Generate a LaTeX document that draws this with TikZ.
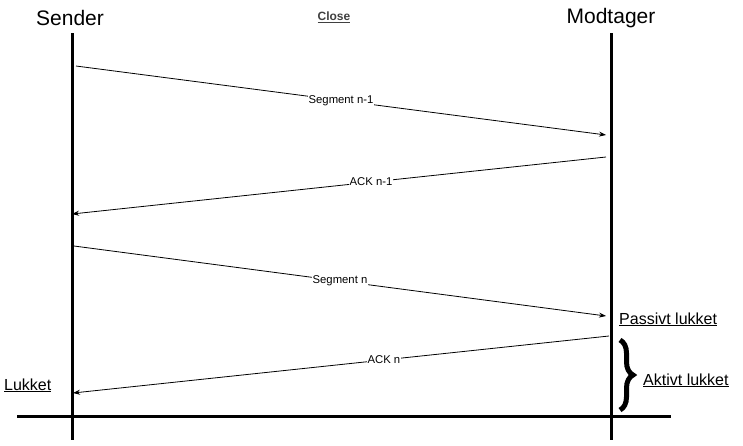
\documentclass[tikz,border=0pt]{standalone}
\usepackage{fontspec}
\setmainfont{Liberation Sans}
\usetikzlibrary{arrows.meta,decorations.pathreplacing}
\tikzset{
  lifeline/.style={line width=3pt},
  msg/.style={-{Stealth[length=7pt,width=5pt]},line width=0.8pt},
  msglabel/.style={fill=white,inner sep=1pt,font=\fontsize{11.3}{13}\selectfont},
  state/.style={font=\fontsize{16}{18}\selectfont,anchor=base west,inner sep=0pt}
}
\begin{document}
\begin{tikzpicture}[x=1pt,y=-1pt]
  \useasboundingbox (0,0) rectangle (743,445);
  \draw
    (70,18) node[font=\fontsize{21}{24}\selectfont] (sender){Sender}
    (611,18) node[font=\fontsize{21}{24}\selectfont] (modtager){Modtager}
    (334,17) node[font=\fontsize{12}{14}\selectfont\bfseries,text=black!75] (close){\underline{Close}};
  % lifelines and base line
  \coordinate (s0) at (72,33);
  \coordinate (s1) at (72,440);
  \coordinate (m0) at (611,33);
  \coordinate (m1) at (611,440);
  \coordinate (b0) at (17,416);
  \coordinate (b1) at (671,416);
  \draw[lifeline] (s0) -- (s1);
  \draw[lifeline] (m0) -- (m1);
  \draw[lifeline] (b0) -- (b1);
  % messages
  \coordinate (a1) at (76,66);
  \coordinate (a2) at (606,135);
  \coordinate (a3) at (606,157);
  \coordinate (a4) at (72,214);
  \coordinate (a5) at (74,246);
  \coordinate (a6) at (606,316);
  \coordinate (a7) at (609,336);
  \coordinate (a8) at (73,393);
  \begin{scope}[msg]
    \draw (a1) to node[msglabel,pos=0.5] (seg1){Segment n-1} (a2);
    \draw (a3) to node[msglabel,pos=0.44] (ack1){ACK n-1} (a4);
    \draw (a5) to node[msglabel,pos=0.5] (seg2){Segment n} (a6);
    \draw (a7) to node[msglabel,pos=0.42] (ack2){ACK n} (a8);
  \end{scope}
  % states
  \node[state] (passiv) at (619,324) {\underline{Passivt lukket}};
  \node[state] (aktiv) at (643,385) {\underline{Aktivt lukket}};
  \node[state] (lukket) at (4,390) {\underline{Lukket}};
  \coordinate (br0) at (620,340);
  \coordinate (br1) at (620,410);
  \draw[line width=5pt,decorate,decoration={brace,amplitude=13pt}] (br0) -- (br1);
\end{tikzpicture}
\end{document}
